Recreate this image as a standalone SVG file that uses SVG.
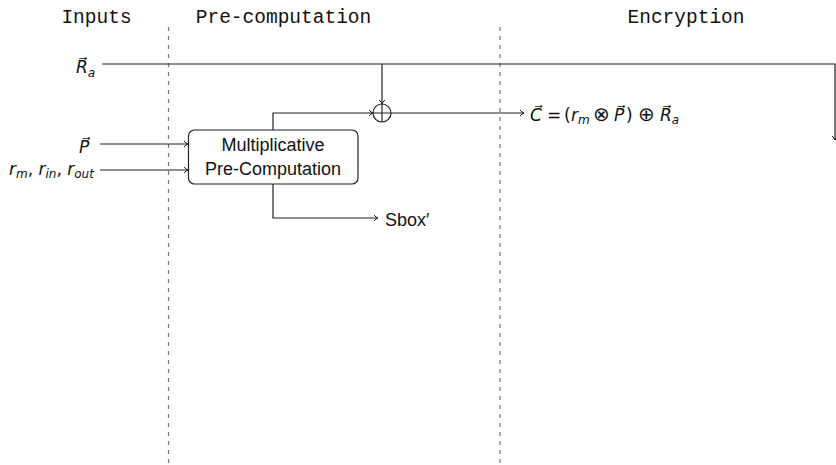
<svg xmlns="http://www.w3.org/2000/svg" width="836" height="465" viewBox="0 0 836 465">
<style>
.hdr{font-family:"Liberation Mono","DejaVu Sans Mono",monospace;font-size:19.5px;fill:#111;text-anchor:middle}
.sans{font-family:"Liberation Sans","DejaVu Sans",sans-serif;font-size:18px;fill:#111}
.math{font-family:"DejaVu Sans","Liberation Sans",sans-serif;font-size:17px;fill:#111}
.it{font-style:italic}
.sub{font-size:12px;font-style:italic}
.op{font-size:20px}
.sep{stroke:#777;stroke-width:1.2;stroke-dasharray:4 5;fill:none}
.wire{stroke:#222;stroke-width:1.2;fill:none}
.box{stroke:#222;stroke-width:1.2;fill:#fff}
</style>
<defs>
<marker id="arr" markerWidth="8" markerHeight="8" refX="6" refY="4" orient="auto" markerUnits="userSpaceOnUse">
<path d="M2,1 Q4,3.5 6,4 Q4,4.5 2,7" fill="none" stroke="#222" stroke-width="1"/>
</marker>
</defs>
<rect width="836" height="465" fill="#fff"/>
<g id="headers">
<text class="hdr" x="96.5" y="23">Inputs</text>
<text class="hdr" x="283.5" y="23">Pre-computation</text>
<text class="hdr" x="686" y="23">Encryption</text>
</g>
<g id="separators">
<line class="sep" x1="168.5" y1="27" x2="168.5" y2="465"/>
<line class="sep" x1="500" y1="27" x2="500" y2="465"/>
</g>
<g id="connectors">
<path class="wire" d="M102,64 H835 V140" marker-end="url(#arr)"/>
<path class="wire" d="M382,64 V104" marker-end="url(#arr)"/>
<path class="wire" d="M100,144 H188" marker-end="url(#arr)"/>
<path class="wire" d="M100,170 H188" marker-end="url(#arr)"/>
<path class="wire" d="M273,130 V113 H373" marker-end="url(#arr)"/>
<path class="wire" d="M391,113 H524" marker-end="url(#arr)"/>
<path class="wire" d="M273,184 V218 H378" marker-end="url(#arr)"/>
</g>
<g id="input-Ra">
<text class="math" x="76" y="73"><tspan class="it">R&#x20D7;</tspan><tspan class="sub" dy="4">a</tspan></text>
</g>
<g id="input-P">
<text class="math" x="79" y="153"><tspan class="it">P&#x20D7;</tspan></text>
</g>
<g id="input-r">
<text class="math" x="9" y="175"><tspan class="it">r</tspan><tspan class="sub" dy="3">m</tspan><tspan dy="-3">, </tspan><tspan class="it">r</tspan><tspan class="sub" dy="3">in</tspan><tspan dy="-3">, </tspan><tspan class="it">r</tspan><tspan class="sub" dy="3">out</tspan></text>
</g>
<g id="xor">
<circle cx="382" cy="113" r="9" class="box"/>
<path class="wire" d="M373,113 H391 M382,104 V122"/>
</g>
<g id="precomp">
<rect class="box" x="188.5" y="130" width="169.5" height="54" rx="6"/>
<text class="sans" x="273" y="151" text-anchor="middle">Multiplicative</text>
<text class="sans" x="273" y="175" text-anchor="middle">Pre-Computation</text>
</g>
<g id="output-C">
<text class="math" y="121"><tspan x="530" class="it">C&#x20D7;</tspan><tspan x="547">=</tspan><tspan x="564">(</tspan><tspan x="571" class="it">r</tspan><tspan class="sub" dy="3">m</tspan><tspan x="593" dy="-3" class="op">⊗</tspan><tspan x="614" class="it">P&#x20D7;</tspan><tspan x="626">)</tspan><tspan x="638" class="op">⊕</tspan><tspan x="660" class="it">R&#x20D7;</tspan><tspan class="sub" dy="3">a</tspan></text>
</g>
<g id="output-sbox">
<text class="sans" x="385" y="226">Sbox′</text>
</g>
</svg>
